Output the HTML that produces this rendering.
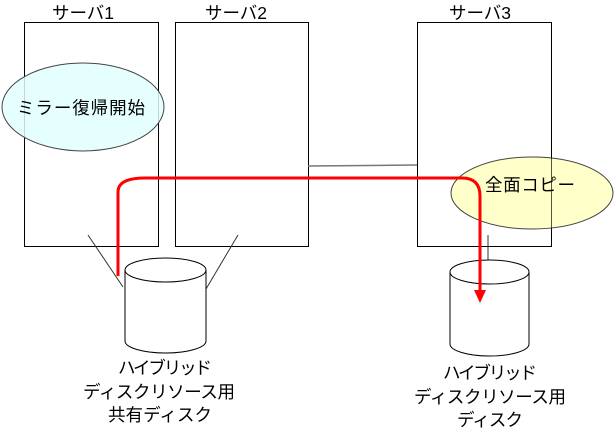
<!DOCTYPE html>
<html><head><meta charset="utf-8"><style>body{margin:0;background:#fff}svg text{font-family:"Liberation Sans","Noto Sans CJK JP",sans-serif;font-size:17.5px;fill:#000}</style></head><body>
<svg width="616" height="431" viewBox="0 0 616 431" xmlns="http://www.w3.org/2000/svg">
<rect x="24.5" y="22.5" width="134" height="224" fill="#fff" stroke="#000"/>
<rect x="175.5" y="22.5" width="133" height="224" fill="#fff" stroke="#000"/>
<rect x="417.5" y="22.5" width="134" height="224" fill="#fff" stroke="#000"/>
<text x="83" y="19" text-anchor="middle">サーバ1</text>
<text x="236" y="19" text-anchor="middle">サーバ2</text>
<text x="480" y="19" text-anchor="middle">サーバ3</text>
<line x1="308" y1="166" x2="417" y2="165" stroke="#777" stroke-width="1.5"/>
<ellipse cx="83" cy="107" rx="81" ry="44" fill="#e0ffff" fill-opacity="0.85" stroke="#444"/>
<text x="81" y="114" text-anchor="middle" textLength="128">ミラー復帰開始</text>
<ellipse cx="532" cy="193" rx="81" ry="36" fill="#ffffc0" fill-opacity="0.85" stroke="#444"/>
<line x1="551.5" y1="157" x2="551.5" y2="229" stroke="#000" stroke-opacity="0.6"/>
<text x="530" y="191" text-anchor="middle" textLength="90">全面コピー</text>
<line x1="88" y1="235" x2="123" y2="287" stroke="#333"/>
<line x1="238" y1="235" x2="206" y2="289" stroke="#333"/>
<line x1="488" y1="235" x2="488" y2="267" stroke="#333"/>
<path d="M125 270 V341 A40.5 12 0 0 0 206 341 V270" fill="#fff" stroke="#000"/>
<ellipse cx="165.5" cy="270" rx="40.5" ry="12" fill="#fff" stroke="#000"/>
<path d="M450 272 V344 A39.5 12 0 0 0 529 344 V272" fill="#fff" stroke="#000"/>
<ellipse cx="489.5" cy="272" rx="39.5" ry="12" fill="#fff" stroke="#000"/>
<path d="M118 276 V192 Q118 178 145 178 H462 Q480 178 480 196 V292" fill="none" stroke="#f00" stroke-width="3"/>
<path d="M474 290 L480 303 L486 290 Z" fill="#f00"/>
<text x="165" y="374" text-anchor="middle" textLength="94">ハイブリッド</text>
<text x="159" y="398" text-anchor="middle" textLength="152">ディスクリソース用</text>
<text x="160" y="421" text-anchor="middle" textLength="104">共有ディスク</text>
<text x="490" y="379" text-anchor="middle" textLength="94">ハイブリッド</text>
<text x="490" y="403" text-anchor="middle" textLength="152">ディスクリソース用</text>
<text x="490" y="426" text-anchor="middle" textLength="66">ディスク</text>
</svg>
</body></html>
